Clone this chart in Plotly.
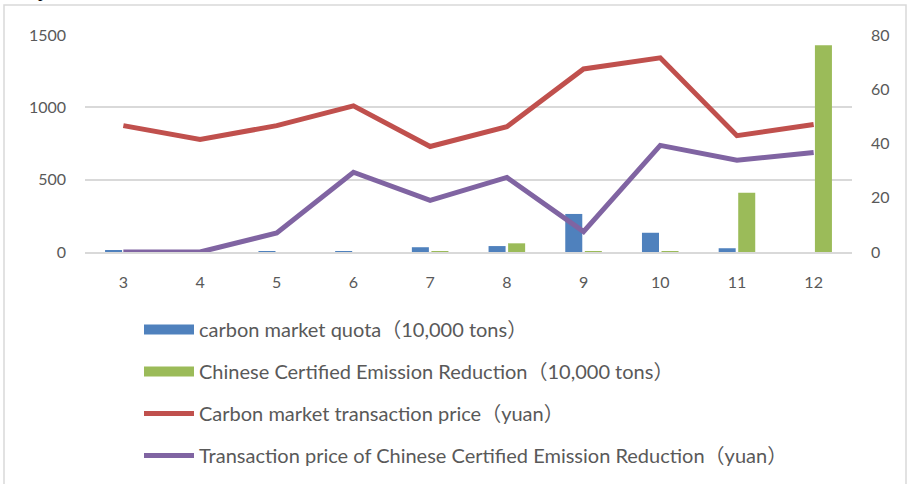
import plotly.graph_objects as go

months = ["3", "4", "5", "6", "7", "8", "9", "10", "11", "12"]
quota = [7, 0, 5, 5, 33, 41, 263, 133, 26, 0]
ccer = [0, 0, 0, 0, 3, 60, 2, 2, 410, 1430]
quota_price = [46.6, 41.5, 46.6, 53.9, 38.9, 46.2, 67.5, 71.6, 42.9, 47.0]
ccer_price = [0, 0, 7.0, 29.4, 19.0, 27.5, 7.5, 39.3, 33.8, 36.7]

names = [
    "carbon market quota（10,000 tons）",
    "Chinese Certified Emission Reduction（10,000 tons）",
    "Carbon market transaction price（yuan）",
    "Transaction price of Chinese Certified Emission Reduction（yuan）",
]
BLUE, GREEN, RED, PURPLE = "#4f81bd", "#9bbb59", "#c0504d", "#8064a2"
GRAY = "#595959"
GRID = "#d9d9d9"

fig = go.Figure()
fig.add_trace(go.Bar(x=months, y=quota, marker=dict(color=BLUE, line=dict(width=0)),
                     showlegend=False, yaxis="y"))
fig.add_trace(go.Bar(x=months, y=ccer, marker=dict(color=GREEN, line=dict(width=0)),
                     showlegend=False, yaxis="y"))
fig.add_trace(go.Scatter(x=months, y=quota_price, mode="lines", line=dict(color=RED, width=5),
                         showlegend=False, yaxis="y2"))
fig.add_trace(go.Scatter(x=months, y=ccer_price, mode="lines", line=dict(color=PURPLE, width=5),
                         showlegend=False, yaxis="y2"))

# legend entries
for nm, col, w in zip(names, [BLUE, GREEN, RED, PURPLE], [10, 10, 5, 5]):
    fig.add_trace(go.Scatter(x=[None], y=[None], mode="lines", name=nm,
                             line=dict(color=col, width=w), legendgroup=nm, yaxis="y2"))

W, H = 909, 484
L, R, T, B = 85, 57, 35, 232
pw, ph = W - L - R, H - T - B

def px_x(p):
    return (p - L) / pw

def px_y(p):
    return (H - B - p) / ph

fig.update_layout(
    width=W, height=H,
    margin=dict(l=L, r=R, t=T, b=B, autoexpand=False),
    paper_bgcolor="white", plot_bgcolor="white",
    font=dict(family="Lato, 'Noto Sans CJK SC', sans-serif", color=GRAY, size=16),
    barmode="group", bargap=0.49, bargroupgap=0.13,
    xaxis=dict(type="category", showgrid=False, showline=True, linecolor=GRID, linewidth=1.5,
               ticks="", tickfont=dict(size=16, color=GRAY), ticklabelstandoff=15),
    yaxis=dict(range=[0, 1500], tickvals=[0, 500, 1000, 1500], showgrid=True, gridcolor=GRID,
               gridwidth=1.5, zeroline=False, showline=False, ticks="",
               tickfont=dict(size=16, color=GRAY), ticklabelstandoff=18),
    yaxis2=dict(range=[0, 80], tickvals=[0, 20, 40, 60, 80], overlaying="y", side="right",
                showgrid=False, zeroline=False, showline=False, ticks="",
                tickfont=dict(size=16, color=GRAY), ticklabelstandoff=18),
    legend=dict(orientation="v", x=px_x(139), y=px_y(310), xanchor="left", yanchor="top",
                traceorder="grouped", tracegroupgap=13, bgcolor="rgba(0,0,0,0)",
                font=dict(size=20, color=GRAY), itemwidth=50),
    shapes=[dict(type="rect", xref="paper", yref="paper",
                 x0=px_x(4), x1=px_x(906), y0=px_y(495), y1=px_y(5),
                 line=dict(color=GRID, width=1.5), fillcolor="rgba(0,0,0,0)", layer="below")],
    annotations=[dict(text="p", xref="paper", yref="paper", x=px_x(42), y=px_y(-9),
                      xanchor="center", yanchor="middle", showarrow=False,
                      font=dict(family="Liberation Serif", size=18, color="black"))],
)

fig.write_html("out.html")
